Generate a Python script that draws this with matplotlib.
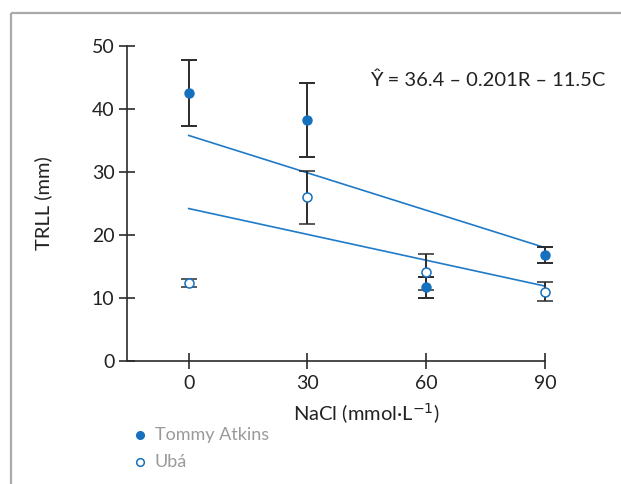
import matplotlib.pyplot as plt

plt.rcParams["font.family"] = ["Lato", "DejaVu Sans"]

# data
nacl = [0, 30, 60, 90]
tommy_mean = [42.5, 38.3, 11.7, 16.8]
tommy_err = [5.2, 5.9, 1.7, 1.3]
uba_mean = [12.4, 26.0, 14.1, 11.0]
uba_err = [0.6, 4.2, 2.9, 1.5]
fit_x = [0, 90]
tommy_fit = [35.8, 18.0]
uba_fit = [24.2, 11.9]

BLUE = "#1570bd"
LINE = "#1f7ac8"
DARK = "#2b2b2b"

fig = plt.figure(figsize=(6.21, 4.84), dpi=100)
ax = fig.add_axes([0.2045, 0.254, 0.673, 0.651])

# outer frame (top and left gray lines)
fig.add_artist(plt.Line2D([11/621, 11/621], [0, 1 - 13/484], color="#aaaaaa", lw=1.6,
                          solid_capstyle="butt", transform=fig.transFigure))
fig.add_artist(plt.Line2D([11/621, 1.01], [1 - 13/484, 1 - 13/484], color="#aaaaaa", lw=1.6,
                          solid_capstyle="butt", transform=fig.transFigure))

ax.plot(fit_x, tommy_fit, color=LINE, lw=1.2, zorder=2, clip_on=False)
ax.plot(fit_x, uba_fit, color=LINE, lw=1.2, zorder=2, clip_on=False)

for mean, err, kw in [(tommy_mean, tommy_err, dict(color=BLUE)),
                      (uba_mean, uba_err, dict(mfc="white", mec=BLUE, mew=1.1))]:
    eb = ax.errorbar(nacl, mean, yerr=err, fmt="o", ms=6.5, ecolor=DARK,
                     elinewidth=1.4, capsize=6, capthick=1.4, zorder=3, **kw)
    arts = [eb.lines[0]] + list(eb.lines[1]) + list(eb.lines[2])
    for art in arts:
        art.set_clip_on(False)

ax.set_xlim(-15.6, 90)
ax.set_ylim(0, 50)
ax.set_xticks(nacl)
ax.set_yticks([0, 10, 20, 30, 40, 50])
for s in ["top", "right"]:
    ax.spines[s].set_visible(False)
for s in ["left", "bottom"]:
    ax.spines[s].set_color(DARK)
    ax.spines[s].set_linewidth(1.2)
ax.tick_params(direction="inout", length=12, width=1.2, color=DARK,
               labelsize=14, labelcolor="#222222", pad=4)
ax.tick_params(axis="y", pad=3)

ax.text(45, -8.3, "NaCl (mmol·L$^{-1}$)", ha="center", va="center", fontsize=14.5,
        color="#222222")
fig.text(43/621, 1 - 203/484, "TRLL (mm)", rotation=90, ha="center", va="center",
         fontsize=14.5, color="#222222")

fig.text(605/621, 1 - 80/484, "Ŷ = 36.4 – 0.201R – 11.5C",
         ha="right", va="center", fontsize=14.5, color="#222222")

# legend below the plot
ax.plot([140/621], [1 - 435/484], "o", color=BLUE, ms=5.5, transform=fig.transFigure,
        clip_on=False)
ax.plot([140/621], [1 - 462/484], "o", mfc="white", mec=BLUE, mew=1.1, ms=5.5,
        transform=fig.transFigure, clip_on=False)
fig.text(155/621, 1 - 435/484, "Tommy Atkins", ha="left", va="center", fontsize=13,
         color="#9a9a9a")
fig.text(155/621, 1 - 462/484, "Ubá", ha="left", va="center", fontsize=13,
         color="#9a9a9a")

fig.savefig("out.png", dpi=100, facecolor="white")
